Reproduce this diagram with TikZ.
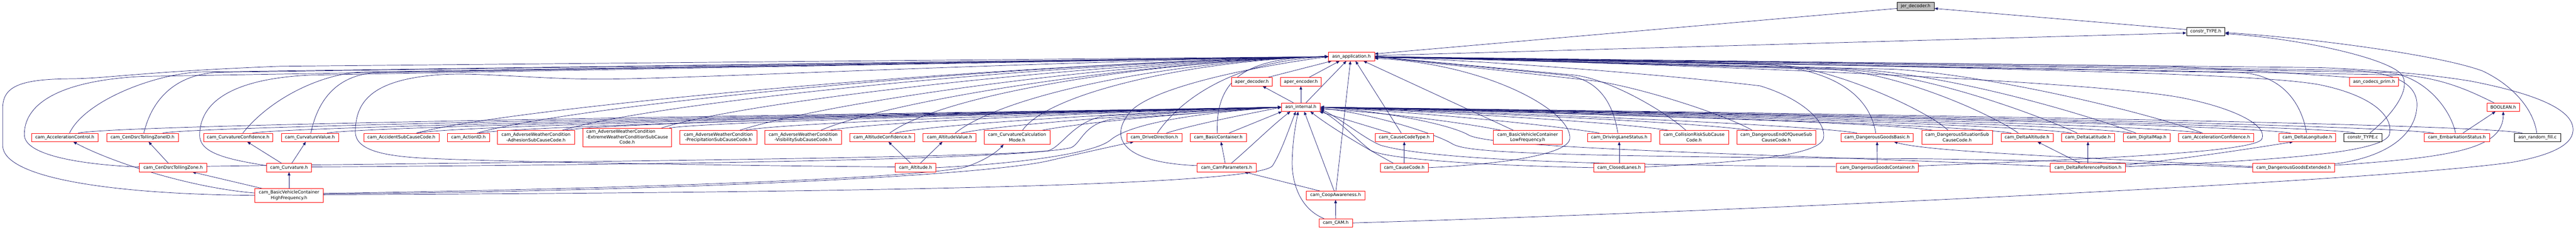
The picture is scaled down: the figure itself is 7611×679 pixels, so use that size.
\documentclass[tikz,border=0pt]{standalone}
\usepackage{fontspec}
\setmainfont{DejaVu Sans}
\usetikzlibrary{arrows.meta,calc,backgrounds}
\definecolor{edgec}{HTML}{191970}
\definecolor{jergray}{HTML}{BFBFBF}
\definecolor{nodered}{HTML}{FF0000}
\tikzset{
  nd/.style={draw=nodered, fill=white, line width=0.5pt, inner xsep=1pt, inner ysep=0pt,
    font=\fontsize{6.5}{8}\selectfont, minimum height=12.5pt, align=center},
  ndk/.style={nd, draw=black},
  bw/.style={minimum width=#1*0.5pt},
  lines2/.style={minimum height=20.5pt},
  lines3/.style={minimum height=27.5pt},
  ed/.style={draw=edgec, line width=0.55pt, -{Triangle[length=5pt,width=4pt]}}
}
\begin{document}
\begin{tikzpicture}[x=0.5pt,y=-0.5pt]
\useasboundingbox (0,0) rectangle (7611,679);
% ---------------- nodes ----------------
\node[nd,bw=110,fill=jergray,draw=black] (jer) at (5660,19) {jer\_decoder.h};
\node[ndk,bw=114] (ctypeh) at (6517,93.5) {constr\_TYPE.h};
\node[nd,bw=136] (app) at (3993,167.5) {asn\_application.h};
\node[nd,bw=121] (aperd) at (3698.5,242) {aper\_decoder.h};
\node[nd,bw=121] (apere) at (3843.5,242) {aper\_encoder.h};
\node[nd,bw=146] (codecs) at (7014,242) {asn\_codecs\_prim.h};
\node[nd,bw=115] (int) at (3843.5,317) {asn\_internal.h};
\node[nd,bw=96] (bool) at (7396,317) {BOOLEAN.h};
% row 4
\node[nd,bw=197] (accctl) at (191.5,406.5) {cam\_AccelerationControl.h};
\node[nd,bw=212] (tzid) at (421,406.5) {cam\_CenDsrcTollingZoneID.h};
\node[nd,bw=205] (curvconf) at (703.5,406.5) {cam\_CurvatureConfidence.h};
\node[nd,bw=169] (curvval) at (915.5,406.5) {cam\_CurvatureValue.h};
\node[nd,bw=222] (accsub) at (1186,406.5) {cam\_AccidentSubCauseCode.h};
\node[nd,bw=124] (actid) at (1384,406.5) {cam\_ActionID.h};
\node[nd,lines2,bw=227] (awadh) at (1583.5,406.5) {cam\_AdverseWeatherCondition\\-AdhesionSubCauseCode.h};
\node[nd,lines3,bw=262] (awext) at (1853,406.5) {\begin{tabular}{@{}l@{}}cam\_AdverseWeatherCondition\\-ExtremeWeatherConditionSubCause\\\multicolumn{1}{@{}c@{}}{Code.h}\end{tabular}};
\node[nd,lines2,bw=227] (awprec) at (2122.5,406.5) {cam\_AdverseWeatherCondition\\-PrecipitationSubCauseCode.h};
\node[nd,lines2,bw=226] (awvis) at (2373,406.5) {cam\_AdverseWeatherCondition\\-VisibilitySubCauseCode.h};
\node[nd,bw=192] (altconf) at (2607,406.5) {cam\_AltitudeConfidence.h};
\node[nd,bw=157] (altval) at (2805.5,406.5) {cam\_AltitudeValue.h};
\node[nd,lines2,bw=194] (curvcalc) at (3005,406.5) {cam\_CurvatureCalculation\\Mode.h};
\node[nd,bw=163] (drivedir) at (3410.5,406.5) {cam\_DriveDirection.h};
\node[nd,bw=167] (basicc) at (3599.5,406.5) {cam\_BasicContainer.h};
\node[nd,bw=172] (cctype) at (4149,406.5) {cam\_CauseCodeType.h};
\node[nd,lines2,bw=203] (bvclf) at (4513.5,406.5) {cam\_BasicVehicleContainer\\LowFrequency.h};
\node[nd,bw=188] (dls) at (4784,406.5) {cam\_DrivingLaneStatus.h};
\node[nd,lines2,bw=204] (crisk) at (5005,406.5) {cam\_CollisionRiskSubCause\\Code.h};
\node[nd,lines2,bw=232] (deoq) at (5248,406.5) {cam\_DangerousEndOfQueueSub\\CauseCode.h};
\node[nd,bw=214] (dgb) at (5546,406.5) {cam\_DangerousGoodsBasic.h};
\node[nd,lines2,bw=209] (dsit) at (5782.5,406.5) {cam\_DangerousSituationSub\\CauseCode.h};
\node[nd,bw=154] (dalt) at (5989,406.5) {cam\_DeltaAltitude.h};
\node[nd,bw=158] (dlat) at (6169,406.5) {cam\_DeltaLatitude.h};
\node[nd,bw=139] (dmap) at (6342.5,406.5) {cam\_DigitalMap.h};
\node[nd,bw=223] (accconf) at (6547.5,406.5) {cam\_AccelerationConfidence.h};
\node[nd,bw=168] (dlon) at (6817,406.5) {cam\_DeltaLongitude.h};
\node[ndk,bw=112] (ctypec) at (6981,406.5) {constr\_TYPE.c};
\node[nd,bw=192] (embark) at (7259,406.5) {cam\_EmbarkationStatus.h};
\node[ndk,bw=136] (rfill) at (7497,406.5) {asn\_random\_fill.c};
% row 5
\node[nd,bw=199] (tz) at (511.5,496) {cam\_CenDsrcTollingZone.h};
\node[nd,bw=132] (curv) at (854,496) {cam\_Curvature.h};
\node[nd,bw=120] (alt) at (2705,496) {cam\_Altitude.h};
\node[nd,bw=174] (camparam) at (3624,496) {cam\_CamParameters.h};
\node[nd,bw=142] (cc) at (4149,496) {cam\_CauseCode.h};
\node[nd,bw=150] (closed) at (4784,496) {cam\_ClosedLanes.h};
\node[nd,bw=243] (dgc) at (5546.5,496) {cam\_DangerousGoodsContainer.h};
\node[nd,bw=222] (dref) at (6169,496) {cam\_DeltaReferencePosition.h};
\node[nd,bw=241] (dgext) at (6776.5,496) {cam\_DangerousGoodsExtended.h};
% row 6, 7
\node[nd,bw=202,minimum height=20pt] (bvchf) at (854,578) {cam\_BasicVehicleContainer\\HighFrequency.h};
\node[nd,bw=174] (coop) at (3946,578) {cam\_CoopAwareness.h};
\node[nd,bw=99] (cam) at (3946.5,659.5) {cam\_CAM.h};

\begin{pgfonlayer}{background}
\fill[white] (0,0) rectangle (7611,679);
% ---------- top ----------
\draw[ed] ($(ctypeh.west)+(0,-6)$) -- ($(jer.east)+(0,6)$);
\draw[ed] ($(jer.west)+(0,6)$) -- ($(app.east)+(0,-8)$);
\draw[ed] ($(app.east)+(0,-3)$) -- ($(ctypeh.west)+(0,4)$);
\draw[ed] ($(ctypec.north)+(21,0)$) .. controls (7080,330) and (7130,250) .. (7090,215) .. controls (7040,170) and (6800,115) .. ($(ctypeh.east)+(0,6)$);
\draw[ed] ($(rfill.north)+(-2,0)$) .. controls (7485,320) and (7420,250) .. (7335,210) .. controls (7200,160) and (6800,110) .. ($(ctypeh.east)+(0,3)$);
% ---------- centre ----------
\draw[ed] ($(int.north)+(-22,0)$) -- ($(aperd.south)+(32,0)$);
\draw[ed] (int.north) -- (apere.south);
\draw[ed] ($(int.north)+(15,0)$) -- ($(app.south)+(-15,0)$);
\draw[ed] ($(aperd.north)+(47,0)$) -- ($(app.south west)+(10,0)$);
\draw[ed] ($(apere.north)+(24,0)$) -- ($(app.south)+(-35,0)$);
\draw[ed] ($(coop.north)+(-46,0)$) -- ($(camparam.south)+(53,0)$);
\draw[ed] ($(coop.north)+(-4,0)$) -- ($(int.south)+(10,0)$);
\draw[ed] ($(coop.north)+(1,0)$) -- ($(app.south)+(-3,0)$);
\draw[ed] (cam.north) -- (coop.south);
\draw[ed] ($(cam.north)+(-35,0)$) .. controls (3835,615) and (3815,530) .. (3818,470) .. controls (3820,410) and (3828,370) .. ($(int.south)+(-8,0)$);
\draw[ed] (cam.east) .. controls (5000,630) and (7000,540) .. (7423,480) .. controls (7560,455) and (7605,420) .. (7602,380) .. controls (7598,320) and (7480,275) .. (7300,240) .. controls (7150,215) and (6950,203) .. (6850,200) -- ($(app.east)+(0,3)$);
% cause code
\draw[ed] (cc.north) -- (cctype.south);
\draw[ed] ($(cc.north)+(-32,0)$) .. controls (4020,430) and (3930,375) .. ($(int.south east)+(-30,0)$);
\draw[ed] (cc.east) .. controls (4450,485) and (4635,455) .. (4638,410) .. controls (4645,330) and (4400,190) .. ($(app.east)+(0,5)$);
\draw[ed] ($(cctype.north)+(-9,0)$) -- ($(app.south)+(12,0)$);
\draw[ed] ($(cctype.north)+(-41,0)$) -- ($(int.south east)+(-3,0)$);
\draw[ed] ($(bvclf.north)+(-42,0)$) -- ($(app.south east)+(-33,0)$);
\draw[ed] ($(bvclf.north)+(-79,0)$) .. controls (4300,358) and (4050,330) .. ($(int.east)+(0,5)$);
% ---------- right side ----------
\draw[ed] ($(dls.north)+(-4,0)$) .. controls (4765,300) and (4720,232) .. (4620,222) -- (app.east);
\draw[ed] ($(dls.north)+(-59,0)$) .. controls (4575,369) and (4230,335) .. (int.east);
\draw[ed] (closed.north) -- (dls.south);
\draw[ed] ($(closed.east)+(0,-2)$) .. controls (5150,480) and (5370,460) .. (5387,411) .. controls (5400,360) and (5320,290) .. (5200,254) .. controls (5000,230) and (4500,185) .. (app.east);
\draw[ed] (closed.west) .. controls (4400,490) and (4100,472) .. (4050,445) .. controls (4010,415) and (3960,360) .. ($(int.east)+(0,9)$);
\draw[ed] ($(crisk.north)+(-24,0)$) .. controls (4920,330) and (4760,235) .. (4650,222) -- (app.east);
\draw[ed] ($(crisk.north)+(-75,0)$) .. controls (4780,362) and (4320,335) .. (int.east);
\draw[ed] ($(deoq.north)+(-71,0)$) .. controls (5090,335) and (4820,251) .. (4700,238) -- (app.east);
\draw[ed] ($(deoq.north)+(-80,0)$) .. controls (5018,362) and (4400,335) .. (int.east);
\draw[ed] ($(dgb.north)+(-4,0)$) .. controls (5520,260) and (5380,200) .. (5200,190) -- (app.east);
\draw[ed] ($(dgb.north)+(-60,0)$) .. controls (5336,369) and (4500,335) .. (int.east);
\draw[ed] (dgc.north) -- (dgb.south);
\draw[ed] ($(dgc.east)+(0,-5)$) .. controls (6200,470) and (6665,450) .. (6683,411) .. controls (6700,370) and (6600,320) .. (6450,290) .. controls (6200,240) and (5000,190) .. (app.east);
\draw[ed] ($(dgc.west)+(0,-3)$) .. controls (4800,488) and (4250,478) .. (4080,430) .. controls (4030,410) and (3960,350) .. ($(int.east)+(0,6)$);
\draw[ed] ($(dsit.north)+(-27,0)$) .. controls (5700,330) and (5420,200) .. (5250,192) -- (app.east);
\draw[ed] ($(dsit.north)+(-72,0)$) .. controls (5560,361) and (4620,335) .. (int.east);
\draw[ed] ($(dalt.north)+(-26,0)$) .. controls (5880,335) and (5600,211) .. (5400,205) -- (app.east);
\draw[ed] ($(dalt.north)+(-47,0)$) .. controls (5792,369) and (4700,335) .. (int.east);
\draw[ed] ($(dlat.north)+(-32,0)$) .. controls (6020,340) and (5700,220) .. (5450,206) -- (app.east);
\draw[ed] ($(dlat.north)+(-49,0)$) .. controls (5970,369) and (4800,335) .. (int.east);
\draw[ed] ($(dmap.north)+(-32,0)$) .. controls (6150,335) and (5750,215) .. (5450,203) -- (app.east);
\draw[ed] ($(dmap.north)+(-45,0)$) .. controls (6148,369) and (4900,335) .. (int.east);
\draw[ed] ($(accconf.north)+(-40,0)$) .. controls (6350,335) and (5900,225) .. (5600,205) -- (app.east);
\draw[ed] ($(accconf.north)+(-45,0)$) .. controls (6353,369) and (5000,335) .. (int.east);
\draw[ed] ($(dlon.north)+(-2,0)$) .. controls (6795,280) and (6720,220) .. (6620,215) -- (app.east);
\draw[ed] ($(dlon.north)+(-50,0)$) .. controls (6617,369) and (5100,335) .. (int.east);
\draw[ed] (dref.north) -- (dlat.south);
\draw[ed] ($(dref.north)+(-23,0)$) -- ($(dalt.south)+(31,0)$);
\draw[ed] ($(dref.east)+(0,-8)$) .. controls (6450,470) and (6650,440) .. ($(dlon.south)+(-42,0)$);
\draw[ed] ($(dref.east)+(0,-3)$) .. controls (6700,475) and (7030,455) .. (7059,400) .. controls (7075,340) and (7000,280) .. (6850,250) .. controls (6700,225) and (6300,205) .. (app.east);
\draw[ed] ($(dref.west)+(0,-4)$) .. controls (5200,455) and (4420,440) .. (4340,400) .. controls (4290,370) and (4100,330) .. (int.east);
\draw[ed] ($(dgext.west)+(0,-3)$) .. controls (6150,465) and (5700,450) .. ($(dgb.south)+(50,0)$);
\draw[ed] ($(dgext.east)+(0,-7)$) .. controls (7250,465) and (7396,440) .. (bool.south);
\draw[ed] ($(dgext.east)+(0,-11)$) .. controls (7050,465) and (7140,400) .. (7141,310) .. controls (7141,250) and (7080,215) .. (6950,208) -- (app.east);
\draw[ed] (dgext.west) .. controls (6400,484) and (6000,474) .. (5700,470) .. controls (4500,462) and (4330,450) .. (4290,425) .. controls (4240,395) and (4050,335) .. ($(int.east)+(0,3)$);
\draw[ed] ($(ctypec.north)+(-24,0)$) .. controls (6880,372) and (5200,335) .. (int.east);
\draw[ed] ($(embark.north)+(-4,0)$) .. controls (7240,320) and (7160,222) .. (7050,214) -- (app.east);
\draw[ed] ($(embark.north)+(-69,0)$) .. controls (7000,368) and (5300,335) .. (int.east);
\draw[ed] ($(embark.north)+(18,0)$) -- ($(bool.south)+(-23,0)$);
\draw[ed] ($(rfill.north)+(-45,0)$) .. controls (7300,365) and (5400,335) .. (int.east);
\draw[ed] ($(bool.north west)+(21,0)$) .. controls (7300,270) and (7220,232) .. (7100,222) -- (app.east);
\draw[ed] ($(codecs.north west)+(2,0)$) .. controls (6850,222) and (6600,205) .. (6400,196) -- (app.east);
% ---------- left side ----------
\draw[ed] ($(accctl.north)+(14,0)$) .. controls (250,300) and (450,220) .. (590,213) -- (app.west);
\draw[ed] ($(accctl.north)+(40,0)$) .. controls (380,365) and (2800,335) .. (int.west);
\draw[ed] ($(tzid.north)+(4,0)$) .. controls (450,290) and (520,222) .. (640,214) -- (app.west);
\draw[ed] ($(tzid.north)+(60,0)$) .. controls (620,370) and (2800,335) .. (int.west);
\draw[ed] ($(curvconf.north)+(14,0)$) .. controls (800,290) and (950,218) .. (1070,213) -- (app.west);
\draw[ed] ($(curvconf.north)+(43,0)$) .. controls (880,372) and (2850,335) .. (int.west);
\draw[ed] ($(curvval.north)+(3,0)$) .. controls (940,290) and (1000,222) .. (1110,215) -- (app.west);
\draw[ed] ($(curvval.north)+(51,0)$) .. controls (1100,372) and (2900,335) .. (int.west);
\draw[ed] ($(accsub.north)+(45,0)$) .. controls (1500,320) and (2900,190) .. (app.west);
\draw[ed] ($(accsub.north)+(45,0)$) .. controls (1380,368) and (2950,335) .. (int.west);
\draw[ed] ($(actid.north)+(26,0)$) .. controls (1700,310) and (3000,185) .. (app.west);
\draw[ed] ($(actid.north)+(32,0)$) .. controls (1560,370) and (3000,335) .. (int.west);
\draw[ed] ($(awadh.north)+(77,0)$) .. controls (1950,300) and (3100,185) .. (app.west);
\draw[ed] ($(awadh.north)+(86,0)$) .. controls (1800,362) and (3050,335) .. (int.west);
\draw[ed] ($(awext.north)+(102,0)$) .. controls (2200,300) and (3200,185) .. (app.west);
\draw[ed] ($(awext.north)+(125,0)$) .. controls (2100,360) and (3100,335) .. (int.west);
\draw[ed] ($(awprec.north)+(63,0)$) .. controls (2450,300) and (3300,182) .. (app.west);
\draw[ed] ($(awprec.north)+(78,0)$) .. controls (2330,362) and (3150,335) .. (int.west);
\draw[ed] ($(awvis.north)+(52,0)$) .. controls (2650,290) and (3400,180) .. (app.west);
\draw[ed] ($(awvis.north)+(79,0)$) .. controls (2570,362) and (3200,335) .. (int.west);
\draw[ed] ($(altconf.north)+(22,0)$) .. controls (2800,270) and (3450,178) .. (app.west);
\draw[ed] ($(altconf.north)+(38,0)$) .. controls (2760,368) and (3300,335) .. (int.west);
\draw[ed] ($(altval.north)+(17,0)$) .. controls (2980,270) and (3500,178) .. (app.west);
\draw[ed] ($(altval.north)+(35,0)$) .. controls (2950,370) and (3400,335) .. (int.west);
\draw[ed] ($(curvcalc.north)+(16,0)$) .. controls (3100,270) and (3550,176) .. (app.west);
\draw[ed] ($(curvcalc.north)+(74,0)$) .. controls (3200,362) and (3500,335) .. (int.west);
\draw[ed] ($(drivedir.north)+(9,0)$) .. controls (3490,290) and (3650,180) .. (app.west);
\draw[ed] ($(drivedir.north)+(36,0)$) .. controls (3550,362) and (3700,335) .. (int.west);
\draw[ed] ($(basicc.north)+(-3,0)$) .. controls (3590,220) and (3700,170) .. (app.west);
\draw[ed] ($(basicc.north)+(32,0)$) -- ($(int.south west)+(2,0)$);
% row 5 left
\draw[ed] ($(tz.west)+(0,-2)$) .. controls (300,490) and (75,470) .. (72,400) .. controls (70,320) and (150,240) .. (420,226) -- (app.west);
\draw[ed] ($(tz.north)+(-14,0)$) -- ($(tzid.south)+(18,0)$);
\draw[ed] ($(tz.east)+(0,-4)$) .. controls (1500,480) and (2900,468) .. (3097,446) .. controls (3140,432) and (3170,360) .. (3263,343) -- (int.west);
\draw[ed] ($(curv.west)+(0,-6)$) .. controls (660,470) and (590,450) .. (590,400) .. controls (590,300) and (690,232) .. (920,222) -- (app.west);
\draw[ed] ($(curv.north)+(-22,0)$) -- ($(curvconf.south)+(27,0)$);
\draw[ed] ($(curv.north)+(8,0)$) -- ($(curvval.south)+(-12,0)$);
\draw[ed] ($(curv.east)+(0,-2)$) .. controls (1800,488) and (3000,475) .. (3164,437) .. controls (3195,425) and (3200,365) .. (3290,352) -- (int.west);
\draw[ed] ($(alt.west)+(0,-2)$) .. controls (2000,488) and (1500,478) .. (1300,470) .. controls (1150,465) and (1050,450) .. (1050,390) .. controls (1050,300) and (1100,235) .. (1300,221) .. controls (1420,213) and (1600,236) .. (1800,234) .. controls (2100,230) and (3000,185) .. (app.west);
\draw[ed] ($(alt.north)+(-14,0)$) -- ($(altconf.south)+(18,0)$);
\draw[ed] ($(alt.north)+(14,0)$) -- ($(altval.south)+(-21,0)$);
\draw[ed] (alt.east) .. controls (3000,485) and (3230,455) .. (3280,415) .. controls (3320,380) and (3450,340) .. (int.west);
\draw[ed] ($(camparam.west)+(0,-6)$) .. controls (3300,480) and (3280,400) .. (3340,330) .. controls (3400,265) and (3650,205) .. (app.west);
\draw[ed] ($(camparam.north)+(-4,0)$) -- ($(basicc.south)+(8,0)$);
\draw[ed] ($(camparam.north)+(14,0)$) .. controls (3700,430) and (3760,370) .. ($(int.south west)+(27,0)$);
% bvchf
\draw[ed] (bvchf.west) .. controls (350,575) and (8,530) .. (8,430) -- (8,320) .. controls (8,255) and (60,234) .. (210,233) .. controls (320,232) and (420,212) .. (829,196) -- (app.west);
\draw[ed] ($(bvchf.west)+(0,-7)$) .. controls (560,555) and (330,480) .. ($(accctl.south)+(25,0)$);
\draw[ed] ($(bvchf.north west)+(22,0)$) -- ($(tz.south)+(57,0)$);
\draw[ed] (bvchf.north) -- (curv.south);
\draw[ed] ($(bvchf.east)+(0,-2)$) .. controls (2500,570) and (3720,550) .. (3760,490) .. controls (3785,450) and (3805,390) .. ($(int.south)+(-15,0)$);
\draw[ed] ($(bvchf.east)+(0,-6)$) .. controls (1800,560) and (2700,528) .. (2850,495) .. controls (2910,475) and (2945,450) .. ($(curvcalc.south)+(-40,0)$);
\draw[ed] ($(bvchf.east)+(0,-4)$) .. controls (2000,565) and (2900,520) .. (3097,476) .. controls (3200,452) and (3300,430) .. ($(drivedir.south west)+(21,0)$);
\end{pgfonlayer}
\end{tikzpicture}
\end{document}
